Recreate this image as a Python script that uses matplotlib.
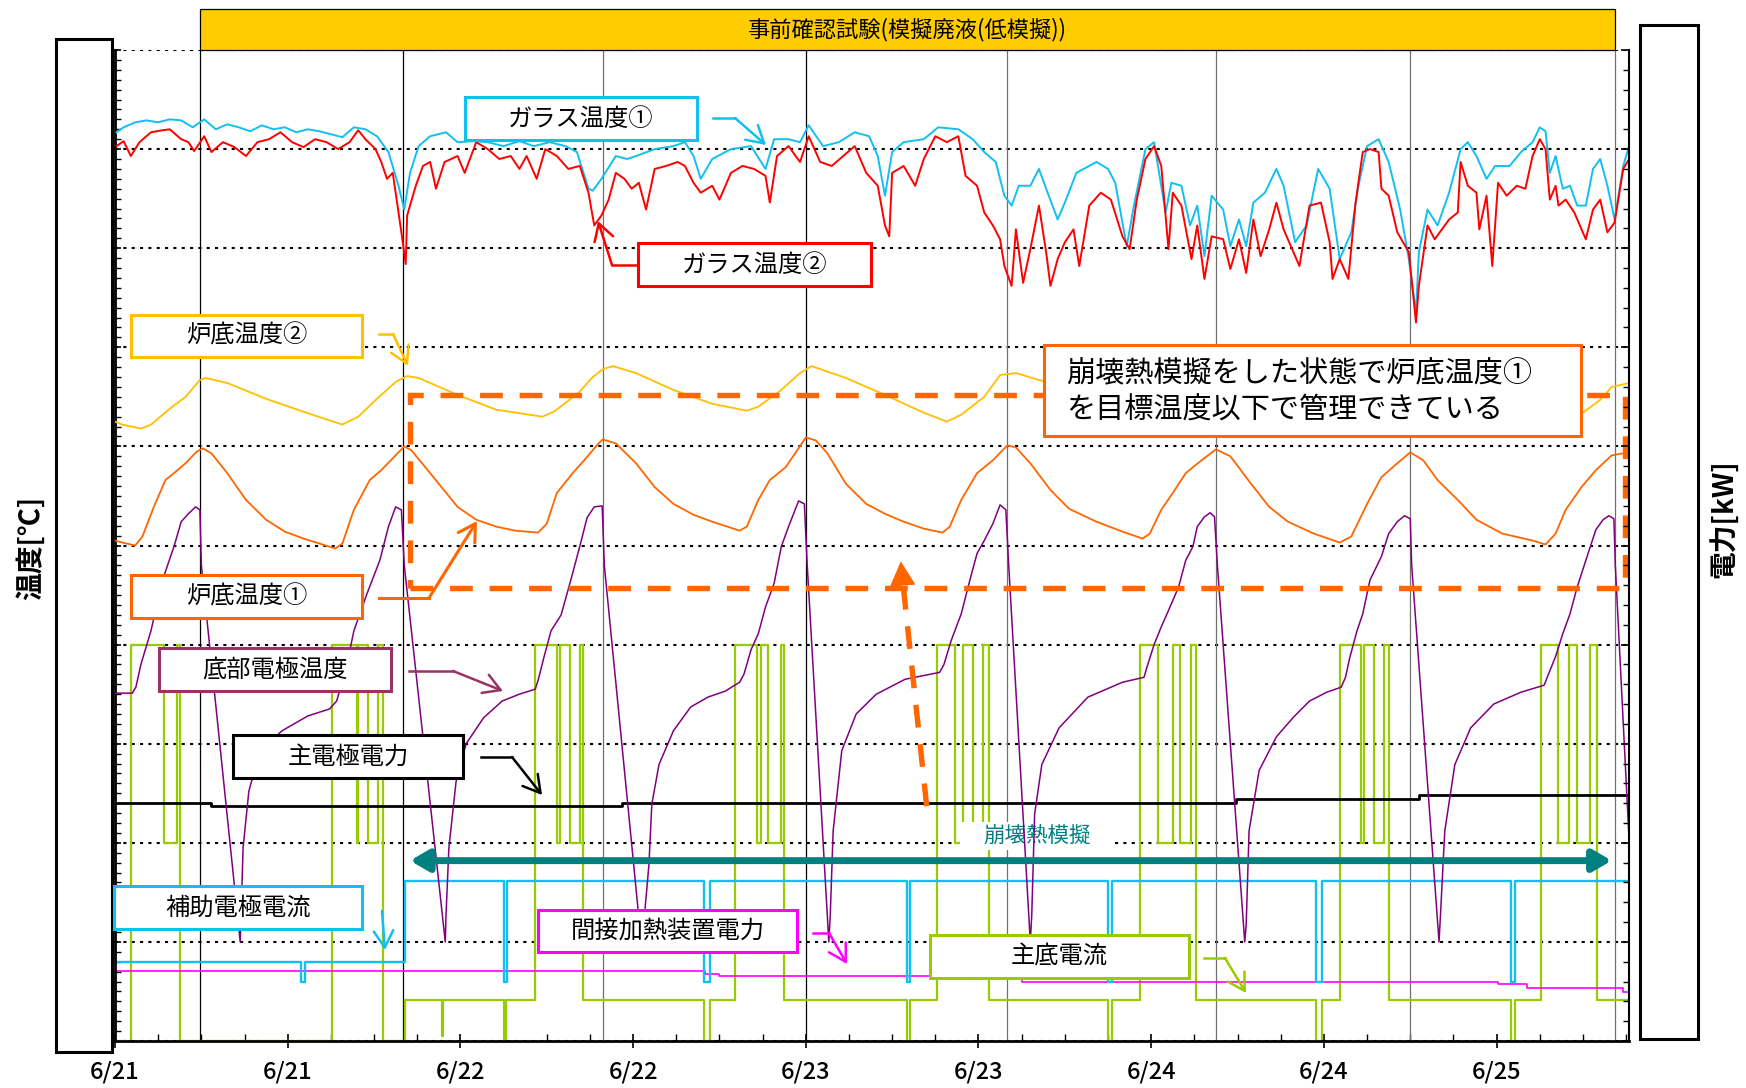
import matplotlib.pyplot as plt
from matplotlib.patches import Rectangle, FancyArrowPatch
from matplotlib.lines import Line2D
from matplotlib.transforms import blended_transform_factory
from matplotlib.ticker import MultipleLocator

plt.rcParams['font.family'] = ['Noto Sans CJK JP', 'DejaVu Sans']

# time axis: hours from 6/21 0:00
hour_ticks = [0, 12, 24, 36, 48, 60, 72, 84, 96]
hour_labels = ['6/21', '6/21', '6/22', '6/22', '6/23', '6/23', '6/24', '6/24', '6/25']
cycle_peaks = [5.9, 20.0, 33.9, 48.0, 62.0, 76.5, 90.0, 104.2]

# ガラス温度① (h, value)
glass1 = [(0.1, 917), (0.6, 922), (1.4, 927), (2.2, 929), (3.0, 927), (3.8, 930), (4.6, 929), (5.4, 922),
          (6.2, 930), (7.0, 920), (7.8, 925), (8.6, 922), (9.4, 918), (10.2, 924), (11.0, 920), (11.8, 922),
          (12.6, 917), (13.4, 920), (14.2, 918), (15.0, 915), (15.8, 912), (16.6, 922), (17.4, 920), (18.2, 913),
          (19.0, 897), (19.7, 863), (20.1, 839), (20.5, 876), (21.1, 903), (21.9, 913), (23.0, 917), (23.8, 907),
          (24.9, 908), (25.9, 907), (27.0, 903), (28.1, 908), (29.1, 903), (30.2, 907), (31.3, 903), (32.1, 897),
          (32.9, 860), (33.2, 858), (33.8, 870), (34.8, 893), (35.6, 890), (36.2, 893), (37.5, 900), (38.8, 903),
          (39.6, 907), (40.2, 893), (40.7, 870), (41.5, 890), (42.8, 900), (44.2, 903), (45.2, 880), (45.8, 910),
          (46.8, 910), (47.6, 907), (48.2, 924), (49.2, 903), (50.3, 907), (51.4, 917), (52.4, 913), (53.0, 893),
          (53.5, 853), (54.0, 897), (54.8, 907), (56.2, 910), (57.2, 922), (58.6, 920), (59.6, 910), (60.4, 897),
          (61.2, 887), (61.8, 853), (62.3, 843), (62.8, 863), (63.6, 863), (64.2, 880), (64.7, 860), (65.5, 829),
          (66.0, 846), (66.8, 876), (68.2, 887), (69.0, 880), (69.5, 866), (70.3, 802), (70.8, 843), (71.6, 900),
          (72.2, 907), (73.0, 836), (73.4, 866), (74.1, 863), (74.7, 823), (75.2, 843), (75.7, 792), (76.2, 853),
          (77.0, 839), (77.5, 802), (78.1, 829), (78.6, 802), (79.1, 846), (79.9, 856), (80.7, 880), (81.2, 863),
          (82.0, 806), (82.8, 823), (83.6, 880), (84.4, 860), (85.1, 789), (85.9, 816), (86.4, 863), (87.0, 903),
          (87.8, 910), (88.5, 887), (89.3, 839), (89.9, 789), (90.4, 735), (90.6, 796), (91.2, 839), (91.9, 823),
          (92.7, 856), (93.5, 900), (94.0, 907), (94.6, 893), (95.3, 870), (95.9, 883), (96.9, 883), (97.7, 897),
          (98.5, 907), (99.0, 922), (99.4, 918), (99.7, 876), (100.1, 893), (100.6, 860), (101.1, 863), (101.6, 843),
          (102.2, 843), (102.7, 880), (103.2, 890), (103.7, 863), (104.2, 829), (104.8, 883), (105.2, 903)]

# ガラス温度②
glass2 = [(0.1, 903), (0.6, 908), (1.1, 893), (1.7, 907), (2.5, 917), (3.3, 919), (3.8, 920), (4.6, 910),
          (5.1, 907), (5.5, 898), (6.2, 913), (6.7, 897), (7.5, 907), (8.3, 902), (9.1, 893), (9.9, 907),
          (10.7, 910), (11.5, 917), (12.3, 907), (13.1, 902), (13.9, 910), (14.7, 907), (15.5, 900), (16.3, 907),
          (16.9, 919), (17.4, 910), (18.1, 900), (18.5, 887), (18.9, 870), (19.3, 876), (19.7, 836), (19.9, 816),
          (20.2, 784), (20.3, 833), (20.9, 863), (21.4, 883), (21.9, 887), (22.3, 860), (22.9, 887), (23.8, 893),
          (24.3, 876), (25.1, 907), (25.9, 900), (26.7, 890), (27.5, 893), (28.1, 880), (28.6, 893), (29.3, 870),
          (29.9, 900), (30.7, 893), (31.5, 880), (32.3, 883), (32.9, 856), (33.3, 823), (33.8, 833), (34.3, 849),
          (34.8, 876), (35.4, 870), (35.9, 860), (36.4, 866), (36.9, 839), (37.5, 880), (38.3, 883), (39.1, 887),
          (39.6, 883), (40.2, 866), (40.7, 856), (41.5, 863), (42.0, 849), (42.8, 876), (43.6, 883), (44.4, 880),
          (45.2, 873), (45.5, 846), (46.0, 893), (46.8, 903), (47.6, 887), (48.2, 913), (49.0, 887), (49.8, 883),
          (50.6, 893), (51.4, 903), (52.2, 876), (53.0, 863), (53.5, 823), (53.8, 812), (54.0, 876), (54.8, 883),
          (55.6, 863), (56.2, 890), (57.0, 913), (57.8, 907), (58.6, 913), (59.1, 873), (59.9, 863), (60.4, 836),
          (61.0, 823), (61.5, 809), (61.8, 782), (62.3, 762), (62.6, 819), (63.1, 765), (63.6, 799), (64.2, 843),
          (64.7, 796), (65.0, 762), (65.5, 789), (66.0, 806), (66.6, 819), (67.0, 782), (67.7, 843), (68.5, 856),
          (69.2, 849), (70.0, 812), (70.5, 799), (71.0, 849), (71.6, 890), (72.2, 903), (72.7, 883), (73.2, 799),
          (73.5, 856), (74.1, 843), (74.8, 789), (75.2, 823), (75.7, 769), (76.2, 812), (77.0, 809), (77.5, 779),
          (78.1, 809), (78.6, 775), (79.1, 829), (79.6, 792), (80.2, 819), (80.7, 846), (81.2, 819), (82.3, 782),
          (83.0, 843), (83.8, 846), (84.4, 806), (84.6, 769), (85.1, 789), (85.7, 769), (86.2, 846), (86.7, 897),
          (87.2, 900), (87.8, 897), (88.0, 860), (88.5, 853), (89.1, 816), (89.9, 796), (90.4, 725), (90.6, 762),
          (91.2, 823), (91.7, 809), (92.2, 819), (92.7, 829), (93.3, 836), (93.5, 887), (94.0, 863), (94.6, 856),
          (94.8, 819), (95.3, 853), (95.7, 782), (96.1, 866), (96.7, 853), (97.4, 863), (98.0, 860), (98.5, 893),
          (99.0, 910), (99.4, 900), (99.7, 849), (100.1, 863), (100.3, 843), (100.8, 849), (101.4, 836), (102.2, 809),
          (102.7, 839), (103.2, 849), (103.7, 816), (104.2, 826), (104.8, 880), (105.2, 890)]

# 炉底温度②
hearth2 = [(0.0, 625), (0.5, 622), (1.8, 618), (2.5, 622), (3.8, 638), (4.9, 650), (5.9, 667), (6.3, 669),
           (7.8, 664), (10.5, 648), (13.1, 635), (15.8, 622), (16.9, 630), (18.2, 648), (19.5, 665), (20.3, 671),
           (21.1, 669), (23.8, 652), (26.5, 637), (29.7, 630), (30.5, 635), (32.2, 654), (33.2, 670), (33.9, 678),
           (34.6, 681), (36.2, 674), (38.8, 657), (41.5, 643), (43.9, 636), (44.7, 640), (46.3, 657), (47.6, 674),
           (48.4, 681), (50.8, 669), (53.5, 652), (56.2, 634), (57.8, 625), (58.8, 632), (60.4, 650), (61.5, 672),
           (62.6, 674), (64.2, 667), (68.0, 654), (71.8, 636), (72.8, 640), (74.5, 655), (76.5, 668), (78.0, 664),
           (82.0, 650), (85.5, 634), (86.5, 640), (88.5, 655), (90.3, 668), (92.0, 662), (96.0, 648), (99.8, 628),
           (101.9, 633), (103.2, 647), (104.0, 660), (105.2, 664)]

# 炉底温度①
hearth1 = [(0.0, 505), (0.5, 503), (1.4, 500), (1.9, 509), (2.7, 539), (3.5, 566), (4.1, 573), (4.9, 583),
           (5.7, 595), (6.1, 598), (6.7, 593), (7.8, 573), (9.1, 546), (10.5, 526), (11.8, 514), (13.1, 507),
           (15.3, 497), (15.8, 502), (16.6, 536), (17.7, 566), (18.5, 576), (19.5, 591), (20.1, 600), (20.6, 596),
           (21.9, 573), (23.8, 539), (25.1, 526), (26.5, 519), (27.8, 515), (29.4, 513), (30.0, 522), (30.7, 553),
           (31.8, 573), (32.6, 586), (33.6, 603), (33.9, 607), (34.8, 603), (36.2, 583), (37.5, 559), (38.8, 542),
           (40.2, 531), (41.5, 524), (43.4, 515), (43.9, 519), (44.7, 546), (45.5, 566), (46.6, 579), (47.4, 596),
           (48.0, 609), (48.7, 606), (49.5, 593), (50.8, 562), (52.2, 542), (53.5, 532), (54.8, 524), (56.2, 517),
           (57.5, 513), (58.0, 519), (58.8, 546), (59.9, 573), (61.0, 586), (62.0, 601), (62.6, 599), (63.6, 583),
           (65.0, 556), (66.3, 537), (68.2, 524), (70.0, 514), (71.4, 507), (71.9, 512), (72.7, 536), (73.5, 553),
           (74.4, 573), (75.5, 586), (76.5, 597), (77.5, 590), (78.9, 563), (80.2, 539), (81.5, 524), (83.3, 512),
           (85.1, 503), (85.9, 509), (87.0, 542), (88.0, 569), (89.1, 583), (90.0, 594), (90.9, 586), (91.9, 566),
           (93.3, 546), (94.6, 526), (96.4, 512), (98.5, 505), (99.4, 501), (100.1, 512), (100.8, 536), (101.9, 559),
           (102.9, 576), (104.0, 591), (104.8, 593), (105.2, 590)]

# 底部電極温度
electrode = [(0.0, 351), (1.2, 351), (1.45, 357), (1.8, 380), (2.5, 414), (3.3, 465), (4.1, 499), (4.6, 524),
             (5.1, 532), (5.6, 539), (5.9, 536), (6.0, 480), (8.7, 100),
             (8.75, 121), (8.9, 195), (9.3, 252), (9.8, 279), (10.5, 298), (11.6, 313), (13.4, 328), (14.9, 335),
             (15.4, 343), (15.6, 353), (16.0, 372), (16.6, 414), (17.5, 451), (18.4, 485), (19.0, 519), (19.5, 539),
             (19.9, 536), (20.1, 480), (22.95, 100),
             (23.0, 127), (23.2, 195), (23.7, 262), (24.4, 300), (25.6, 326), (26.9, 343), (28.1, 350), (29.2, 355),
             (29.4, 364), (29.8, 387), (30.3, 414), (31.0, 430), (31.8, 472), (32.4, 505), (32.8, 528), (33.3, 539),
             (33.85, 540), (34.0, 480), (36.6, 95),
             (37.1, 178), (37.3, 239), (37.8, 279), (38.8, 313), (40.0, 337), (41.2, 347), (42.4, 353), (43.4, 362),
             (43.7, 370), (44.2, 395), (44.7, 411), (45.2, 438), (45.8, 462), (46.3, 499), (46.8, 519), (47.5, 545),
             (47.9, 542), (48.1, 480), (49.6, 100),
             (49.7, 127), (49.9, 212), (50.5, 293), (51.5, 330), (52.9, 350), (54.9, 365), (57.3, 372), (57.6, 380),
             (58.1, 404), (58.8, 431), (59.4, 465), (59.9, 492), (60.4, 505), (61.0, 522), (61.5, 541), (61.9, 536),
             (62.1, 480), (63.6, 100),
             (63.7, 127), (63.9, 229), (64.4, 279), (65.6, 316), (67.6, 347), (70.0, 362), (71.5, 367), (71.7, 377),
             (72.2, 400), (72.7, 418), (73.1, 431), (73.9, 458), (74.4, 485), (74.9, 499), (75.2, 519), (75.7, 529),
             (76.1, 533), (76.4, 529), (76.6, 480), (78.5, 100),
             (78.6, 117), (78.8, 212), (79.5, 273), (80.7, 307), (81.9, 327), (83.0, 343), (84.2, 352), (85.2, 357),
             (85.5, 367), (85.8, 387), (86.3, 414), (86.7, 431), (87.2, 465), (88.0, 489), (88.5, 512), (89.1, 524),
             (89.6, 530), (90.0, 527), (90.1, 480), (92.0, 100),
             (92.1, 127), (92.4, 212), (93.1, 279), (94.2, 316), (95.8, 340), (97.7, 352), (99.3, 359), (99.6, 370),
             (100.1, 388), (100.6, 411), (101.1, 431), (101.6, 458), (102.2, 485), (102.9, 516), (103.4, 526),
             (103.8, 530), (104.15, 527), (104.25, 480), (105.2, 205)]

# step signals (value held until next time)
main_power = [(0, 240), (6.7, 237), (35.2, 240), (77.9, 244), (90.6, 248), (105.2, 248)]
aux_current = [(0, 80), (12.95, 60), (13.2, 80), (20.15, 161), (27.0, 60), (27.25, 161), (40.9, 60), (41.35, 161),
               (55.0, 60), (55.25, 161), (69.0, 60), (69.3, 161), (83.45, 60), (83.85, 161), (97.0, 60),
               (97.3, 161), (105.2, 161)]
heater_power = [(0, 71), (41.0, 68), (42.0, 66), (63.0, 60), (96.1, 58), (98.1, 53), (104.8, 49), (105.2, 49)]
bottom_current = [(0, 0), (1.1, 400), (3.4, 200), (4.3, 400), (4.55, 0), (15.1, 400), (16.8, 200), (16.9, 400),
                  (17.6, 200), (18.3, 400), (18.6, 0), (20.15, 41), (22.7, 5), (22.8, 41), (27.0, 0), (27.2, 41),
                  (29.15, 400), (30.7, 200), (30.9, 400), (31.6, 200), (32.3, 400), (32.5, 41), (40.9, 0),
                  (41.35, 41), (43.1, 400), (44.6, 200), (44.9, 400), (45.4, 200), (46.3, 400), (46.5, 41),
                  (55.0, 0), (55.25, 41), (57.1, 400), (58.4, 200), (58.9, 400), (59.6, 200), (60.3, 400),
                  (60.7, 41), (69.0, 0), (69.3, 41), (71.2, 400), (72.5, 200), (73.5, 400), (74.0, 200),
                  (74.8, 400), (75.1, 41), (83.45, 0), (83.85, 41), (85.1, 400), (86.6, 200), (86.8, 400),
                  (87.5, 200), (88.2, 400), (88.5, 41), (97.0, 0), (97.3, 41), (99.1, 400), (100.3, 200),
                  (101.0, 400), (101.6, 200), (102.5, 400), (103.0, 41), (105.2, 41)]

CYAN = '#12C0F0'
ORANGE = '#FF6600'
YELLOW = '#FFC000'
GREEN = '#99CC00'
TEAL = '#008080'

W, H = 1746, 1088
fig = plt.figure(figsize=(W / 100, H / 100), dpi=100)
ax = fig.add_axes([115 / W, 1 - 1041 / H, (1629 - 115) / W, (1041 - 50) / H])
ax.set_xlim(0, 105.2)
ax.set_ylim(0, 1000)

ax.spines['top'].set_visible(False)
ax.spines['left'].set_linewidth(2)
ax.spines['bottom'].set_linewidth(2)
ax.spines['right'].set_visible(False)

ax.set_xticks(hour_ticks)
ax.set_xticklabels(hour_labels, fontsize=17, fontweight='medium')
ax.xaxis.set_minor_locator(MultipleLocator(3))
ax.tick_params(axis='x', which='major', direction='inout', length=10, width=1.2, pad=9)
ax.tick_params(axis='x', which='minor', direction='in', length=5, width=1)
ax.set_yticks(range(0, 1001, 100))
ax.yaxis.set_minor_locator(MultipleLocator(10))
ax.tick_params(axis='y', which='major', direction='inout', length=8, width=1.2, labelleft=False)
ax.tick_params(axis='y', which='minor', direction='in', length=4, width=1)
ax.grid(axis='y', which='major', color='black', linestyle=(0, (1.5, 2.5)), linewidth=1.5)

# right axis (電力) only shows its ticks
ax2 = ax.twinx()
ax2.set_ylim(0, 1000)
ax2.set_yticks(range(0, 1001, 100))
ax2.yaxis.set_minor_locator(MultipleLocator(20))
ax2.tick_params(axis='y', which='major', direction='in', length=6, width=1.2, labelright=False)
ax2.tick_params(axis='y', which='minor', direction='in', length=4, width=1)
for s in ['top', 'left', 'bottom']:
    ax2.spines[s].set_visible(False)
ax2.spines['right'].set_linewidth(1.5)

for i, h in enumerate(cycle_peaks):
    ax.axvline(h, color='black' if i in (0, 1, 3) else '#707070', lw=0.9, zorder=1.6)


def xy(pairs):
    return [p[0] for p in pairs], [p[1] for p in pairs]


ax.step(*xy(bottom_current), where='post', color=GREEN, lw=1.6, zorder=2)
ax.text(64.1, 207, '崩壊熱模擬', color=TEAL, fontsize=15.5, ha='center', va='center', zorder=2.2,
        bbox=dict(boxstyle='square,pad=0.15', facecolor='white', edgecolor='none'))
ax.add_patch(Rectangle((58.7, 193), 10.6, 28, facecolor='white', edgecolor='none', zorder=2.1))
ax.step(*xy(heater_power), where='post', color='#FF00FF', lw=1.2, zorder=2.4)
ax.step(*xy(aux_current), where='post', color=CYAN, lw=1.7, zorder=2.5)
ax.step(*xy(main_power), where='post', color='black', lw=2.0, zorder=2.6)
ax.plot(*xy(electrode), color='#800080', lw=1.1, zorder=2.7)
ax.plot(*xy(hearth1), color=ORANGE, lw=1.3, zorder=2.8)
ax.plot(*xy(hearth2), color=YELLOW, lw=1.3, zorder=2.8)
ax.plot(*xy(glass1), color=CYAN, lw=1.4, zorder=2.9)
ax.plot(*xy(glass2), color='#FF0000', lw=1.4, zorder=3)

# 崩壊熱模擬の期間
ax.annotate('', xy=(104.0, 182), xytext=(20.5, 182),
            arrowprops=dict(arrowstyle='<|-|>,head_length=0.55,head_width=0.32', mutation_scale=20,
                            color=TEAL, lw=5, shrinkA=0, shrinkB=0), zorder=4)

# 管理範囲の枠と矢印
ax.add_patch(Rectangle((20.5, 457), 104.9 - 20.5, 652 - 457, fill=False, edgecolor=ORANGE, lw=3.9,
                       linestyle=(0, (4.2, 3.1)), zorder=4))
ax.plot([56.4, 54.75], [237, 462], color=ORANGE, lw=3.9, linestyle=(0, (4.2, 3.1)), zorder=4)
ax.annotate('', xy=(54.6, 484), xytext=(54.7, 466),
            arrowprops=dict(arrowstyle='-|>,head_length=0.8,head_width=0.42', mutation_scale=20,
                            color=ORANGE, lw=1, shrinkA=0, shrinkB=0), zorder=4)

# title bar over the test period
tb = blended_transform_factory(ax.transData, ax.transAxes)
ax.add_patch(Rectangle((5.9, 1.0), 104.2 - 5.9, 0.0415, transform=tb, clip_on=False,
                       facecolor='#FFCC00', edgecolor='black', lw=0.9, zorder=5))
ax.text((5.9 + 104.2) / 2, 1.021, '事前確認試験(模擬廃液(低模擬))', transform=tb, ha='center', va='center',
        fontsize=16, zorder=6)


def fpt(x, y):
    return x / W, 1 - y / H


def frame(x0, y0, x1, y1, color, lw=2.2):
    fig.add_artist(Rectangle(fpt(x0, y1), (x1 - x0) / W, (y1 - y0) / H, transform=fig.transFigure,
                             facecolor='white', edgecolor=color, linewidth=lw, zorder=5))


def label_box(x0, y0, x1, y1, text, color, size=17.5):
    frame(x0, y0, x1, y1, color)
    fig.text((x0 + x1) / 2 / W, 1 - (y0 + y1) / 2 / H, text, ha='center', va='center',
             fontsize=size, zorder=6)


def pointer(points, color, lw=1.8):
    pts = [fpt(x, y) for x, y in points]
    if len(pts) > 2:
        fig.add_artist(Line2D([p[0] for p in pts[:-1]], [p[1] for p in pts[:-1]],
                              transform=fig.transFigure, color=color, lw=lw, zorder=5))
    fig.add_artist(FancyArrowPatch(pts[-2], pts[-1], transform=fig.transFigure,
                                   arrowstyle='->,head_length=0.6,head_width=0.35', mutation_scale=20,
                                   color=color, lw=lw, shrinkA=0, shrinkB=0, zorder=5))


# axis label panels
frame(56, 39, 112, 1052, 'black', lw=2.2)
frame(1640, 25, 1698, 1039, 'black', lw=2.2)
fig.text(31 / W, 1 - 548 / H, '温度[℃]', rotation=90, ha='center', va='center', fontsize=20,
         fontweight='bold')
fig.text(1724 / W, 1 - 519 / H, '電力[kW]', rotation=90, ha='center', va='center', fontsize=20,
         fontweight='bold')

label_box(465, 97, 697, 140, 'ガラス温度①', CYAN)
pointer([(713, 118), (735, 118), (766, 145)], CYAN)
label_box(638, 243, 871, 286, 'ガラス温度②', '#FF0000')
pointer([(637, 265), (612, 265), (598, 221)], '#FF0000')
label_box(131, 315, 362, 357, '炉底温度②', YELLOW)
pointer([(379, 334), (393, 334), (408, 366)], YELLOW)
label_box(131, 575, 362, 618, '炉底温度①', ORANGE)
pointer([(379, 598), (429, 598), (477, 521)], ORANGE, lw=2.2)
label_box(159, 648, 391, 691, '底部電極温度', '#993366')
pointer([(409, 671), (453, 671), (503, 691)], '#993366')
label_box(233, 735, 463, 778, '主電極電力', 'black')
pointer([(481, 757), (512, 757), (542, 795)], 'black')
label_box(114, 886, 362, 929, '補助電極電流', CYAN)
pointer([(382, 911), (385, 950)], CYAN)
label_box(538, 910, 797, 952, '間接加熱装置電力', '#FF00FF')
pointer([(813, 933), (829, 933), (847, 964)], '#FF00FF')
label_box(930, 935, 1189, 978, '主底電流', GREEN)
pointer([(1204, 958), (1225, 958), (1246, 993)], GREEN)

frame(1044, 345, 1581, 436, ORANGE)
fig.text(1066 / W, 1 - 374 / H, '崩壊熱模擬をした状態で炉底温度①', ha='left', va='center', fontsize=21, zorder=6)
fig.text(1066 / W, 1 - 411 / H, 'を目標温度以下で管理できている', ha='left', va='center', fontsize=21, zorder=6)

fig.savefig('out.png', dpi=100)
